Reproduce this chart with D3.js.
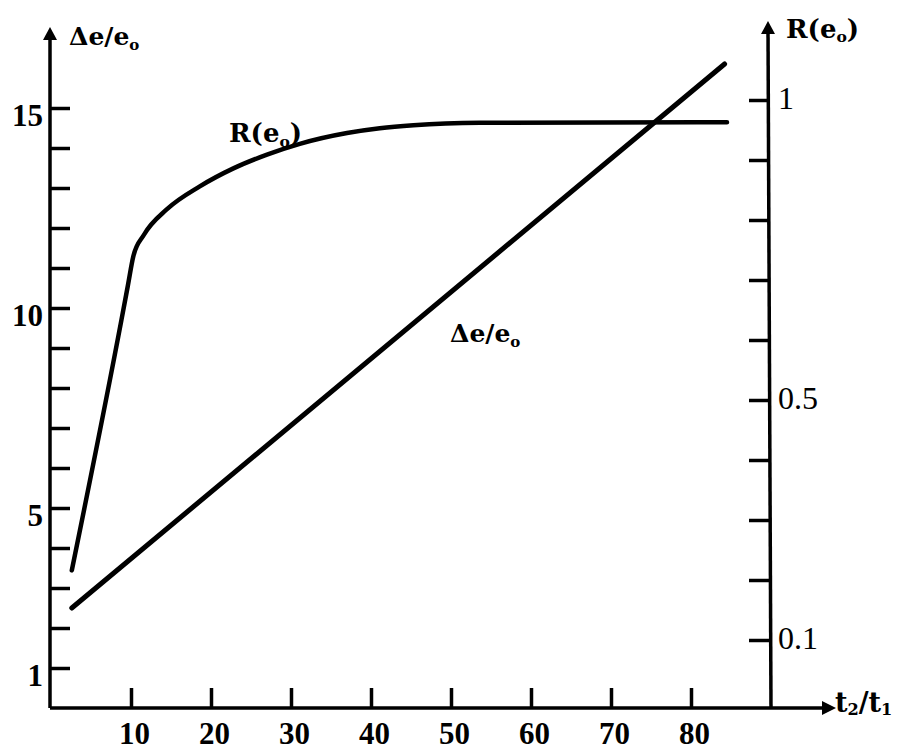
<html lang="en">
<head>
<script src="https://cdn.jsdelivr.net/npm/d3@7"></script>
</head>
<style>
body{margin:0;background:#fff;}
</style>
<body>
<div id="drawarea"></div>
<script>
// data
const deltaT=[2.6,84.2]
const deltaE=[2.5,16.1]
const rT=[2.6,8.8,9.6,10.3,11.6,14.5,18.6,22.8,27.0,31.1,37.0,41.1,45.3,53.6,84.5]
const rVal=[0.216,0.633,0.69,0.74,0.775,0.818,0.856,0.886,0.909,0.927,0.945,0.953,0.958,0.962,0.963]
const xTicks=[10,20,30,40,50,60,70,80]
const leftTicks=d3.range(1,16)
const leftLabels=[1,5,10,15]
const rightTicks=d3.range(1,11).map(d=>d/10)
const rightLabels=[0.1,0.5,1]

const W=902,H=750
const x=d3.scaleLinear().domain([0,90]).range([51,771])
const yL=d3.scaleLinear().domain([0,15]).range([708,108])
const yR=d3.scaleLinear().domain([0,1]).range([700,100])

const svg=d3.select("#drawarea").append("svg").attr("width",W).attr("height",H)
const serif="'Liberation Serif','Times New Roman',serif"
const wide="'DejaVu Serif',serif"

// axis lines with arrows
const ax=svg.append("g").attr("stroke","#000").attr("stroke-width",3.5).attr("fill","none")
ax.append("line").attr("x1",x(0)-1).attr("y1",yL(0)).attr("x2",x(0)-1).attr("y2",36)
ax.append("line").attr("x1",x(0)-1).attr("y1",yL(0)).attr("x2",826).attr("y2",yL(0))
ax.append("line").attr("x1",x(90)).attr("y1",yL(0)).attr("x2",x(90)-3).attr("y2",30)
const arrows=svg.append("g").attr("fill","#000")
arrows.append("path").attr("d",`M${x(0)-1},27 l-7,13 l14,0 z`)
arrows.append("path").attr("d",`M${x(90)-3},21 l-7,13 l14,0 z`)
arrows.append("path").attr("d",`M836,${yL(0)} l-14,-7 l0,14 z`)

// left axis
const gL=svg.append("g").attr("transform",`translate(${x(0)-1},0)`)
  .call(d3.axisLeft(yL).tickValues(leftTicks).tickSizeInner(-20).tickSizeOuter(0).tickPadding(7)
  .tickFormat(d=>leftLabels.includes(d)?d:""))
gL.select(".domain").remove()
gL.selectAll(".tick line").attr("stroke-width",3.5)
gL.selectAll("text").attr("font-family",serif).attr("font-weight","bold").attr("font-size",31).attr("dy","0.55em").attr("fill","#000")

// bottom axis
const gB=svg.append("g").attr("transform",`translate(0,${yL(0)})`)
  .call(d3.axisBottom(x).tickValues(xTicks).tickSizeInner(-20).tickSizeOuter(0).tickPadding(14))
gB.select(".domain").remove()
gB.selectAll(".tick line").attr("stroke-width",3.5)
gB.selectAll("text").attr("font-family",serif).attr("font-weight","bold").attr("font-size",31).attr("dx","0.1em").attr("fill","#000")

// right axis
const gR=svg.append("g").attr("transform",`translate(${x(90)-1},0)`)
  .call(d3.axisRight(yR).tickValues(rightTicks).tickSizeInner(-21).tickSizeOuter(0).tickPadding(8)
  .tickFormat(d=>rightLabels.some(v=>Math.abs(v-d)<1e-9)?String(d):""))
gR.select(".domain").remove()
gR.selectAll(".tick line").attr("stroke-width",3.5)
gR.selectAll("text").attr("font-family",serif).attr("font-size",32).attr("dy","0.25em").attr("fill","#000")

// curves
const lineDelta=d3.line().x(d=>x(d[0])).y(d=>yL(d[1]))
svg.append("path").datum(d3.zip(deltaT,deltaE)).attr("d",lineDelta)
  .attr("fill","none").attr("stroke","#000").attr("stroke-width",5).attr("stroke-linecap","round")
const lineR=d3.line().x(d=>x(d[0])).y(d=>yR(d[1])).curve(d3.curveMonotoneX)
svg.append("path").datum(d3.zip(rT,rVal)).attr("d",lineR)
  .attr("fill","none").attr("stroke","#000").attr("stroke-width",4.5).attr("stroke-linecap","round")

// labels with subscripts
function label(px,py,parts,fam,size){
  const t=svg.append("text").attr("x",px).attr("y",py).attr("font-family",fam).attr("font-weight","bold").attr("font-size",size).attr("fill","#000")
  parts.forEach(p=>{
    if(p.sub){t.append("tspan").attr("font-size",size*0.6).attr("dy",p.dy||5).text(p.s);}
    else{t.append("tspan").attr("dy",p.back||0).text(p.s)}
  })
  return t
}
label(69,45,[{s:"Δe/e"},{s:"o",sub:true}],wide,25)
label(450,342,[{s:"Δe/e"},{s:"o",sub:true}],wide,25)
label(786,38,[{s:"R(e"},{s:"o",sub:true,dy:4},{s:")",back:-4}],wide,26)
label(229,142,[{s:"R(e"},{s:"o",sub:true,dy:5},{s:")",back:-5}],wide,26)
label(835,712,[{s:"t"},{s:"2",sub:true,dy:3},{s:"/t",back:-3},{s:"1",sub:true,dy:3}],wide,27)
</script>
</body>
</html>
